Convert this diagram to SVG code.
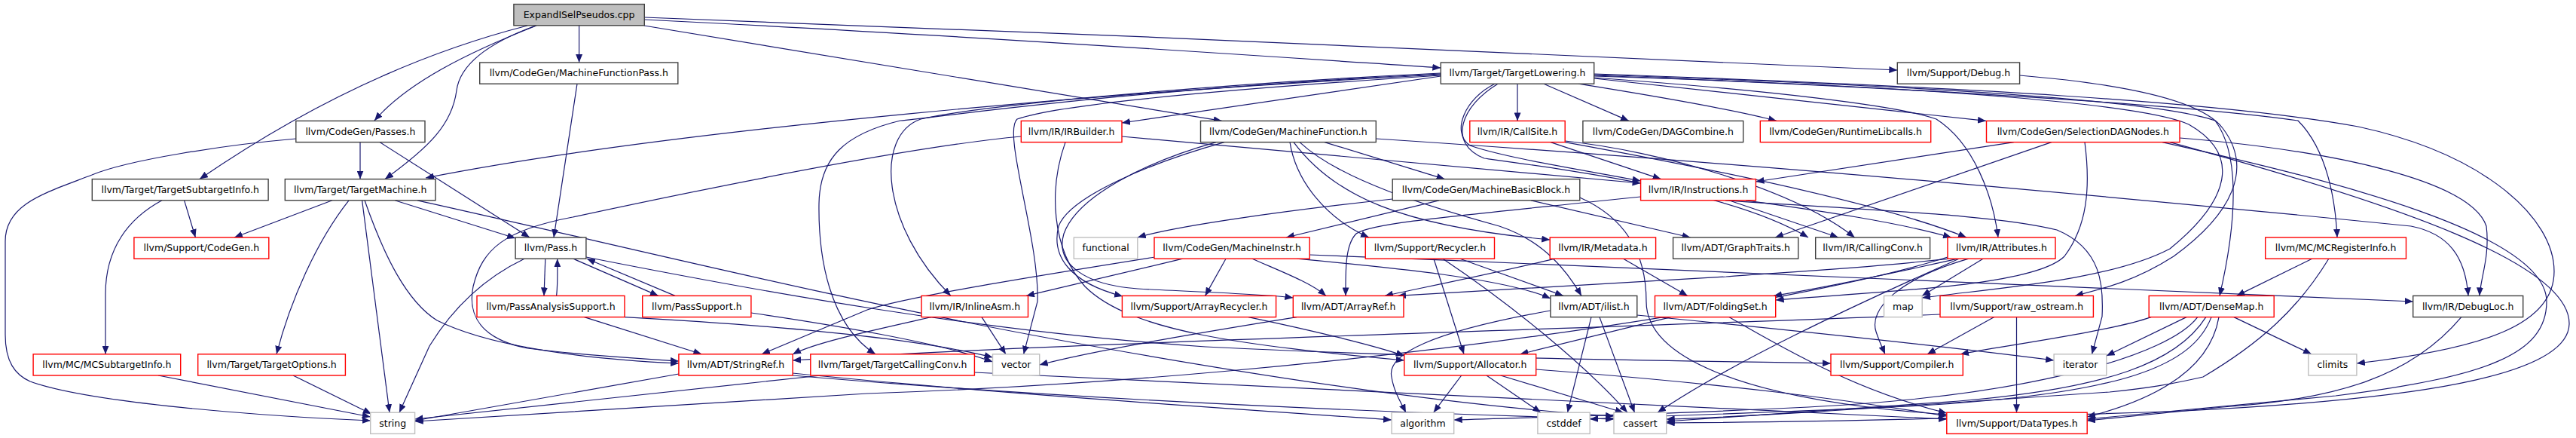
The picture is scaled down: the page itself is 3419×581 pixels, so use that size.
<svg xmlns="http://www.w3.org/2000/svg" width="3419" height="581" viewBox="0 0 3419 581">
<style>
.e{fill:none;stroke:#191970;stroke-width:1.2;marker-end:url(#a)}
.n rect{fill:#fff;stroke-width:1.4}
.b rect{stroke:#404040}
.r rect{stroke:#ff0000}
.g rect{stroke:#bfbfbf}
.root rect{fill:#bfbfbf;stroke:#404040}
text{font-family:"DejaVu Sans","Liberation Sans",sans-serif;font-size:12.5px;text-anchor:middle;fill:#000}
</style>
<defs>
<marker id="a" markerWidth="12" markerHeight="9" refX="11" refY="4.5" orient="auto" markerUnits="userSpaceOnUse"><path d="M0,0 L11,4.5 L0,9 z" fill="#191970"/></marker>
</defs>
<rect width="3419" height="581" fill="#fff"/>
<g id="edges">
<path class="e" d="M712,34 C620,70 540,110 497,160"/>
<path class="e" d="M700,34 Q480,90 265,237.6"/>
<path class="e" d="M711,34 C640,60 610,90 606,120 C600,165 570,195 511,237.6"/>
<path class="e" d="M768.6,33.8 L768.6,83"/>
<path class="e" d="M855,34 L1621.7,160.4"/>
<path class="e" d="M855.3,26 C1300,48 1700,76 1912.3,90"/>
<path class="e" d="M855.3,23 C1400,42 2000,70 2518.3,93"/>
<path class="e" d="M766,111.2 L735,315"/>
<path class="e" d="M478,188.6 L478,237.6"/>
<path class="e" d="M504,188.6 L703,315"/>
<path class="e" d="M393,184 C300,192 170,212 122,232 C60,256 7,270 7,320 L7,444 C7,480 20,497 40,506 C120,535 350,552 491.7,558"/>
<path class="e" d="M244.6,265.8 L259.4,315"/>
<path class="e" d="M215,265.8 C170,290 140,330 140,390 L140,469.8"/>
<path class="e" d="M441,265.8 L311,315"/>
<path class="e" d="M463,265.8 C420,320 385,400 367,469.8"/>
<path class="e" d="M480.6,265.8 L517,547.2"/>
<path class="e" d="M484,265.8 C510,340 540,400 580,425 C640,455 750,475 900.9,482"/>
<path class="e" d="M524,265.8 L684.1,316"/>
<path class="e" d="M554,265.8 C800,320 1100,395 1400,450 C1700,505 1950,540 2142,552"/>
<path class="e" d="M723.8,343.2 L722,392.4"/>
<path class="e" d="M738.6,392.4 C740,380 740,360 739.7,343.2"/>
<path class="e" d="M760.8,343.2 L873.8,392.4"/>
<path class="e" d="M896,392.4 L779,343.2"/>
<path class="e" d="M696,343.2 C640,370 600,410 570,459 L530,547.2"/>
<path class="e" d="M777.9,341 C1000,385 1300,440 1600,460 C1900,475 2200,478 2430,482"/>
<path class="e" d="M775.6,420.6 L931.3,469.8"/>
<path class="e" d="M829,420.6 C1000,430 1200,445 1317.5,474"/>
<path class="e" d="M996.9,415 C1100,430 1250,455 1317.5,480"/>
<path class="e" d="M210,498 L491.7,553"/>
<path class="e" d="M389,498 L492.8,549"/>
<path class="e" d="M901,496 L550.6,558"/>
<path class="e" d="M1052,495 C1300,520 1600,540 1847.1,557"/>
<path class="e" d="M1052,498 C1400,528 1800,546 2142,556"/>
<path class="e" d="M1912.3,99 C1500,120 900,170 565,236"/>
<path class="e" d="M1912.3,101 L1489,163"/>
<path class="e" d="M1912.3,97 C1600,112 1300,140 1222,158 C1160,180 1170,300 1262,392.4"/>
<path class="e" d="M1912.3,98 C1500,118 1250,155 1195,160 C1120,178 1088,210 1087,270 C1086,340 1100,430 1162,469.8"/>
<path class="e" d="M1912.3,100 C1600,120 1400,140 1350,158 C1330,175 1380,320 1377,400 L1358.6,469.8"/>
<path class="e" d="M1984,111.2 C1945,130 1925,175 1951,193 C2000,210 2100,225 2177.6,240"/>
<path class="e" d="M1988,111.2 C1940,140 1920,190 1970,210 C2100,228 2300,255 2400,315"/>
<path class="e" d="M2014,111.2 L2014,160.4"/>
<path class="e" d="M2049,111.2 L2162,160.4"/>
<path class="e" d="M2095,111.2 C2200,128 2300,145 2358,160.4"/>
<path class="e" d="M2115.7,104 L2636,160.4"/>
<path class="e" d="M2115.7,103 C2350,120 2520,140 2570,158 C2620,190 2645,260 2652,315"/>
<path class="e" d="M2115.7,100 C2500,115 2900,138 3050,160 C3090,200 3100,270 3102,315"/>
<path class="e" d="M2115.7,99 C2500,112 2850,130 2940,160 C2970,200 2972,280 2946,392.4"/>
<path class="e" d="M2115.7,98 C2600,115 2950,135 3130,168 C3300,205 3390,290 3390,360 C3390,430 3300,462 3127.9,482"/>
<path class="e" d="M2115.7,101 C2600,116 2850,140 2905,165 C2975,205 2960,265 2880,330 C2800,372 2650,382 2551.2,395"/>
<path class="e" d="M2680.6,100 C2800,110 2920,130 2950,170 C2990,222 2965,282 2885,340 C2835,372 2795,382 2754,392.4"/>
<path class="e" d="M1489,181 L2177.6,243"/>
<path class="e" d="M1355.3,181 C1200,195 900,258 760,288 C670,305 640,330 628,380 C620,420 640,450 700,462 C780,472 850,476 900.9,479"/>
<path class="e" d="M1414,188.6 C1392,250 1395,330 1440,380 C1500,440 1650,458 1863.8,478"/>
<path class="e" d="M1758,188.6 L1917.5,237.6"/>
<path class="e" d="M1712,188.6 C1720,240 1760,290 1817,315"/>
<path class="e" d="M1717,188.6 C1770,260 1860,300 2057.2,318"/>
<path class="e" d="M1725,188.6 C1780,240 1900,275 1990,300 C2050,320 2080,360 2099,392.4"/>
<path class="e" d="M1625,188.6 C1530,215 1420,260 1405,300 C1395,340 1420,375 1490,393"/>
<path class="e" d="M1614,188.6 C1520,215 1430,260 1412,310 C1400,350 1440,378 1510,383 C1600,388 1680,390 1716.3,395"/>
<path class="e" d="M1826.3,184 C2300,215 2800,260 3200,300 C3250,310 3272,340 3276,392.4"/>
<path class="e" d="M2058,188.6 L2204.6,237.6"/>
<path class="e" d="M2077.2,187 C2200,200 2380,250 2461.6,315"/>
<path class="e" d="M2077.2,188.6 C2250,220 2500,270 2610,315"/>
<path class="e" d="M2672.8,188.6 L2330.4,241"/>
<path class="e" d="M2722.8,188.6 L2356,315"/>
<path class="e" d="M2893,183 C3100,200 3280,240 3300,300 C3305,340 3292,370 3291,392.4"/>
<path class="e" d="M2870,188.6 C3100,240 3380,310 3380,400 C3380,470 3300,500 3100,525 L2770.2,556"/>
<path class="e" d="M2767,188.6 C2775,250 2770,300 2740,340 C2700,380 2500,386 2356.7,398"/>
<path class="e" d="M2880,188.6 C3180,270 3412,350 3410,430 C3408,500 3200,530 2900,545 C2600,556 2400,560 2211.7,561"/>
<path class="e" d="M2317,265.8 C2420,280 2520,295 2590,315"/>
<path class="e" d="M2294.8,265.8 L2440,315"/>
<path class="e" d="M2177.6,261 C1950,285 1820,295 1800,310 C1785,325 1786,360 1786,392.4"/>
<path class="e" d="M2290,265.8 C2500,280 2650,285 2730,305 C2790,330 2792,380 2790,420 L2776.5,469.8"/>
<path class="e" d="M1910,265.8 L1707,315"/>
<path class="e" d="M1848.2,264 C1700,280 1560,300 1509.8,315"/>
<path class="e" d="M2032,265.8 L2243.6,315"/>
<path class="e" d="M2096.8,262 C2160,290 2185,340 2185,400 C2185,470 2300,530 2583.8,550"/>
<path class="e" d="M1569.8,343.2 L1362,392.4"/>
<path class="e" d="M1627,343.2 L1599.5,392.4"/>
<path class="e" d="M1662,343.2 C1700,360 1740,375 1760,392.4"/>
<path class="e" d="M1532.7,341 C1350,370 1200,395 1151,411 L1011,469.8"/>
<path class="e" d="M1721,343.2 C1850,355 2000,370 2057.9,396"/>
<path class="e" d="M1738.2,338 C2300,360 2900,385 3202.7,400"/>
<path class="e" d="M1903,343.2 L1943,469.8"/>
<path class="e" d="M1915,343.2 C2000,400 2100,480 2160,547.2"/>
<path class="e" d="M1937.9,343.2 L2075,392.4"/>
<path class="e" d="M2063.9,343.2 C1950,370 1870,385 1838,392.4"/>
<path class="e" d="M2154.6,343.2 L2239.9,392.4"/>
<path class="e" d="M2587.5,343.2 C2450,358 2350,362 2291,367 C2100,378 1950,386 1855,392.4"/>
<path class="e" d="M2598.7,343.2 C2500,365 2400,385 2354,392.4"/>
<path class="e" d="M2632,343.2 L2551,392.4"/>
<path class="e" d="M2613,343.2 C2520,370 2480,410 2490,440 C2495,455 2500,465 2502,469.8"/>
<path class="e" d="M2600,343.2 C2450,410 2300,480 2200,547.2"/>
<path class="e" d="M2585,341 C2400,400 1800,500 1151,522 L550.6,559"/>
<path class="e" d="M3068.6,343.2 L2968.6,392.4"/>
<path class="e" d="M3090.8,343.2 C3050,410 3000,455 2924,500 C2880,510 2850,515 2800,520 C2500,540 2350,552 2211.7,556"/>
<path class="e" d="M2855,420.6 C2800,440 2650,460 2602,469.8"/>
<path class="e" d="M2902,420.6 L2795.8,472"/>
<path class="e" d="M2964.9,420.6 L3068,469.8"/>
<path class="e" d="M2916.7,420.6 C2880,470 2700,525 2400,540 C2200,550 2050,553 1929.7,557"/>
<path class="e" d="M2927.8,420.6 C2890,480 2800,515 2600,532 C2400,546 2300,553 2211.7,559"/>
<path class="e" d="M2935,420.6 C2910,485 2820,522 2550,538 C2350,548 2180,552 2110.2,556"/>
<path class="e" d="M2945,420.6 C2935,480 2880,525 2770.2,553"/>
<path class="e" d="M3266.8,420.6 C3200,500 3100,530 2950,540 L2770.2,558"/>
<path class="e" d="M2646.8,420.6 L2558,469.8"/>
<path class="e" d="M2676.5,420.6 L2676.5,547.2"/>
<path class="e" d="M2575,417 C2000,440 1400,455 1052.1,478"/>
<path class="e" d="M1303,420.6 L1335,469.8"/>
<path class="e" d="M1236,420.6 C1150,440 1080,455 1052.1,470"/>
<path class="e" d="M1721,420.6 C1600,440 1450,465 1379.7,484"/>
<path class="e" d="M1657,420.6 C1750,440 1830,460 1863.8,472"/>
<path class="e" d="M2057.9,412 C1900,440 1840,470 1847,500 C1850,520 1860,535 1866,547.2"/>
<path class="e" d="M2112,420.6 L2080.5,547.2"/>
<path class="e" d="M2123,420.6 L2169.5,547.2"/>
<path class="e" d="M2172.8,418 C2400,440 2600,462 2726.1,478"/>
<path class="e" d="M2217.6,420.6 L2017.5,469.8"/>
<path class="e" d="M2294.8,420.6 C2380,470 2470,520 2583.8,548"/>
<path class="e" d="M1939.7,498 L1902.7,547.2"/>
<path class="e" d="M1973,498 L2045,547.2"/>
<path class="e" d="M1991.6,498 L2154.6,547.2"/>
<path class="e" d="M2038.7,490 C2300,510 2450,530 2583.8,552"/>
<path class="e" d="M1293.4,494 C1800,520 2300,545 2583.8,556"/>
<path class="e" d="M1090,498 L550.6,556"/>
</g>
<g id="root" class="n root"><rect x="681.9" y="5.6" width="173.4" height="28.2"/><text x="768.6" y="24">ExpandISelPseudos.cpp</text></g>
<g id="mfp" class="n b"><rect x="636.7" y="83" width="263.1" height="28.2"/><text x="768.3" y="101.4">llvm/CodeGen/MachineFunctionPass.h</text></g>
<g id="tl" class="n b"><rect x="1912.3" y="83" width="203.4" height="28.2"/><text x="2014" y="101.4">llvm/Target/TargetLowering.h</text></g>
<g id="dbg" class="n b"><rect x="2518.3" y="83" width="162.3" height="28.2"/><text x="2599.5" y="101.4">llvm/Support/Debug.h</text></g>
<g id="passes" class="n b"><rect x="392.8" y="160.4" width="171.2" height="28.2"/><text x="478.4" y="178.8">llvm/CodeGen/Passes.h</text></g>
<g id="irb" class="n r"><rect x="1355.3" y="160.4" width="133.7" height="28.2"/><text x="1422.2" y="178.8">llvm/IR/IRBuilder.h</text></g>
<g id="mf" class="n b"><rect x="1593.5" y="160.4" width="232.8" height="28.2"/><text x="1709.9" y="178.8">llvm/CodeGen/MachineFunction.h</text></g>
<g id="cs" class="n r"><rect x="1950.8" y="160.4" width="126.4" height="28.2"/><text x="2014" y="178.8">llvm/IR/CallSite.h</text></g>
<g id="dag" class="n b"><rect x="2100.9" y="160.4" width="212.8" height="28.2"/><text x="2207.3" y="178.8">llvm/CodeGen/DAGCombine.h</text></g>
<g id="rtl" class="n r"><rect x="2336.3" y="160.4" width="226.4" height="28.2"/><text x="2449.5" y="178.8">llvm/CodeGen/RuntimeLibcalls.h</text></g>
<g id="sdn" class="n r"><rect x="2636.5" y="160.4" width="256.5" height="28.2"/><text x="2764.8" y="178.8">llvm/CodeGen/SelectionDAGNodes.h</text></g>
<g id="tsi" class="n b"><rect x="122.3" y="237.6" width="233.8" height="28.2"/><text x="239.2" y="256">llvm/Target/TargetSubtargetInfo.h</text></g>
<g id="tm" class="n b"><rect x="378.3" y="237.6" width="199.7" height="28.2"/><text x="478.2" y="256">llvm/Target/TargetMachine.h</text></g>
<g id="mbb" class="n b"><rect x="1848.2" y="237.6" width="248.6" height="28.2"/><text x="1972.5" y="256">llvm/CodeGen/MachineBasicBlock.h</text></g>
<g id="ins" class="n r"><rect x="2177.6" y="237.6" width="152.8" height="28.2"/><text x="2254" y="256">llvm/IR/Instructions.h</text></g>
<g id="cg" class="n r"><rect x="177.9" y="315" width="178.9" height="28.2"/><text x="267.4" y="333.4">llvm/Support/CodeGen.h</text></g>
<g id="pass" class="n b"><rect x="684.1" y="315" width="93.8" height="28.2"/><text x="731" y="333.4">llvm/Pass.h</text></g>
<g id="func" class="n g"><rect x="1425.3" y="315" width="84.5" height="28.2"/><text x="1467.6" y="333.4">functional</text></g>
<g id="mi" class="n r"><rect x="1532" y="315" width="206.2" height="28.2"/><text x="1635.1" y="333.4">llvm/CodeGen/MachineInstr.h</text></g>
<g id="rec" class="n r"><rect x="1812.3" y="315" width="171.2" height="28.2"/><text x="1897.9" y="333.4">llvm/Support/Recycler.h</text></g>
<g id="meta" class="n r"><rect x="2057.2" y="315" width="140.4" height="28.2"/><text x="2127.4" y="333.4">llvm/IR/Metadata.h</text></g>
<g id="gt" class="n b"><rect x="2220.6" y="315" width="166.1" height="28.2"/><text x="2303.7" y="333.4">llvm/ADT/GraphTraits.h</text></g>
<g id="cc" class="n b"><rect x="2409.7" y="315" width="151.9" height="28.2"/><text x="2485.6" y="333.4">llvm/IR/CallingConv.h</text></g>
<g id="attr" class="n r"><rect x="2585" y="315" width="143" height="28.2"/><text x="2656.5" y="333.4">llvm/IR/Attributes.h</text></g>
<g id="mcri" class="n r"><rect x="3006.7" y="315" width="186.8" height="28.2"/><text x="3100.1" y="333.4">llvm/MC/MCRegisterInfo.h</text></g>
<g id="pas" class="n r"><rect x="633" y="392.4" width="196" height="28.2"/><text x="731" y="410.8">llvm/PassAnalysisSupport.h</text></g>
<g id="ps" class="n r"><rect x="852.7" y="392.4" width="144.2" height="28.2"/><text x="924.8" y="410.8">llvm/PassSupport.h</text></g>
<g id="ia" class="n r"><rect x="1223" y="392.4" width="141.5" height="28.2"/><text x="1293.8" y="410.8">llvm/IR/InlineAsm.h</text></g>
<g id="arec" class="n r"><rect x="1489.4" y="392.4" width="204.2" height="28.2"/><text x="1591.5" y="410.8">llvm/Support/ArrayRecycler.h</text></g>
<g id="aref" class="n r"><rect x="1716.3" y="392.4" width="146.7" height="28.2"/><text x="1789.7" y="410.8">llvm/ADT/ArrayRef.h</text></g>
<g id="ilist" class="n b"><rect x="2057.9" y="392.4" width="114.9" height="28.2"/><text x="2115.4" y="410.8">llvm/ADT/ilist.h</text></g>
<g id="fs" class="n r"><rect x="2196.5" y="392.4" width="160.2" height="28.2"/><text x="2276.6" y="410.8">llvm/ADT/FoldingSet.h</text></g>
<g id="map" class="n g"><rect x="2500.5" y="392.4" width="50.7" height="28.2"/><text x="2525.9" y="410.8">map</text></g>
<g id="raw" class="n r"><rect x="2575" y="392.4" width="203.4" height="28.2"/><text x="2676.7" y="410.8">llvm/Support/raw_ostream.h</text></g>
<g id="dm" class="n r"><rect x="2852.2" y="392.4" width="166" height="28.2"/><text x="2935.2" y="410.8">llvm/ADT/DenseMap.h</text></g>
<g id="dl" class="n b"><rect x="3202.7" y="392.4" width="146" height="28.2"/><text x="3275.7" y="410.8">llvm/IR/DebugLoc.h</text></g>
<g id="mcsi" class="n r"><rect x="44.1" y="469.8" width="195.6" height="28.2"/><text x="141.9" y="488.2">llvm/MC/MCSubtargetInfo.h</text></g>
<g id="to" class="n r"><rect x="262.7" y="469.8" width="195.7" height="28.2"/><text x="360.6" y="488.2">llvm/Target/TargetOptions.h</text></g>
<g id="sr" class="n r"><rect x="900.9" y="469.8" width="151.2" height="28.2"/><text x="976.5" y="488.2">llvm/ADT/StringRef.h</text></g>
<g id="tcc" class="n r"><rect x="1075.8" y="469.8" width="217.6" height="28.2"/><text x="1184.6" y="488.2">llvm/Target/TargetCallingConv.h</text></g>
<g id="vec" class="n g"><rect x="1317.5" y="469.8" width="62.2" height="28.2"/><text x="1348.6" y="488.2">vector</text></g>
<g id="alloc" class="n r"><rect x="1863.8" y="469.8" width="174.9" height="28.2"/><text x="1951.3" y="488.2">llvm/Support/Allocator.h</text></g>
<g id="comp" class="n r"><rect x="2430" y="469.8" width="175.3" height="28.2"/><text x="2517.7" y="488.2">llvm/Support/Compiler.h</text></g>
<g id="iter" class="n g"><rect x="2726.1" y="469.8" width="69.7" height="28.2"/><text x="2761" y="488.2">iterator</text></g>
<g id="clim" class="n g"><rect x="3063.8" y="469.8" width="64.1" height="28.2"/><text x="3095.9" y="488.2">climits</text></g>
<g id="str" class="n g"><rect x="491.7" y="547.2" width="58.9" height="28.2"/><text x="521.2" y="565.6">string</text></g>
<g id="alg" class="n g"><rect x="1847.1" y="547.2" width="82.6" height="28.2"/><text x="1888.4" y="565.6">algorithm</text></g>
<g id="cstd" class="n g"><rect x="2040.9" y="547.2" width="69.3" height="28.2"/><text x="2075.6" y="565.6">cstddef</text></g>
<g id="cass" class="n g"><rect x="2142" y="547.2" width="69.7" height="28.2"/><text x="2176.9" y="565.6">cassert</text></g>
<g id="dt" class="n r"><rect x="2583.8" y="547.2" width="186.4" height="28.2"/><text x="2677" y="565.6">llvm/Support/DataTypes.h</text></g>
</svg>
